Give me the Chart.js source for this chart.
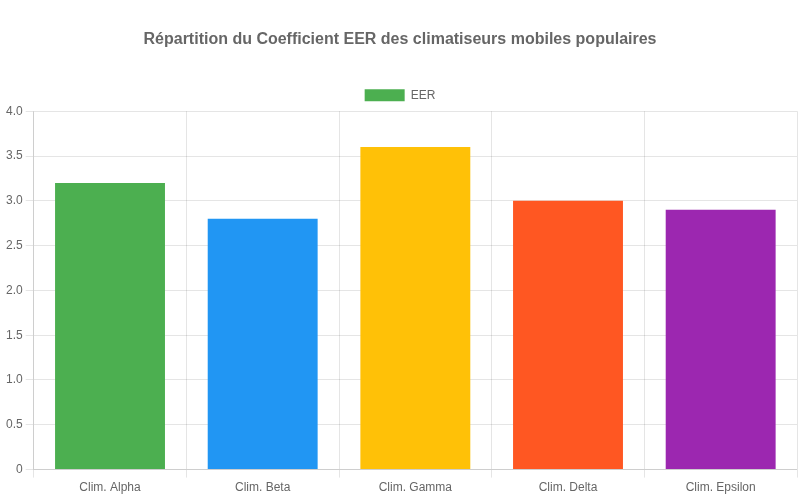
<!DOCTYPE html>
<html>
<head>
<meta charset="utf-8">
<script src="https://cdn.jsdelivr.net/npm/chart.js@4/dist/chart.umd.min.js"></script>
<style>
  html, body { margin: 0; padding: 0; background: #fff; }
  #wrap { width: 800px; height: 500px; }
</style>
</head>
<body>
<div id="wrap"><canvas id="chart"></canvas></div>
<script>
const labels = ["Clim. Alpha", "Clim. Beta", "Clim. Gamma", "Clim. Delta", "Clim. Epsilon"];
const eerValues = [3.2, 2.8, 3.6, 3.0, 2.9];
const barColors = ["#4CAF50", "#2196F3", "#FFC107", "#FF5722", "#9C27B0"];

Chart.defaults.font.family = "'Liberation Sans', Arial, sans-serif";
Chart.defaults.color = "#666";

new Chart(document.getElementById("chart"), {
  type: "bar",
  data: {
    labels: labels,
    datasets: [{
      label: "EER",
      data: eerValues,
      backgroundColor: barColors
    }]
  },
  options: {
    responsive: true,
    maintainAspectRatio: false,
    animation: false,
    layout: {
      padding: { left: 3, right: 3, bottom: 2 }
    },
    plugins: {
      title: {
        display: true,
        text: "Répartition du Coefficient EER des climatiseurs mobiles populaires",
        font: { size: 16, weight: "bold" },
        padding: { top: 30, bottom: 30 }
      },
      legend: {
        labels: { font: { size: 12 } }
      }
    },
    scales: {
      y: {
        min: 0,
        max: 4,
        ticks: {
          stepSize: 0.5,
          font: { size: 12 },
          callback: v => v === 0 ? "0" : v.toFixed(1)
        }
      },
      x: {
        ticks: { font: { size: 12 } }
      }
    }
  }
});
</script>
</body>
</html>
